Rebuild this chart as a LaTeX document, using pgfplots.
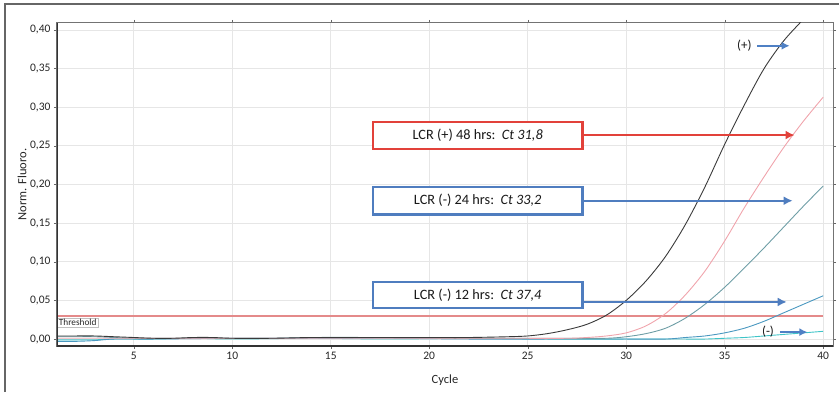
\documentclass[border=0pt]{standalone}
\usepackage{fontspec}
\setmainfont{Carlito}
\usepackage{pgfplots}
\pgfplotsset{compat=1.18}
\usetikzlibrary{arrows.meta,calc}
\definecolor{gridc}{HTML}{E6E6E6}
\definecolor{cblack}{HTML}{3A3A3A}
\definecolor{cpink}{HTML}{F0A4AC}
\definecolor{cteal}{HTML}{6E9EA6}
\definecolor{cblue}{HTML}{4A98C0}
\definecolor{ccyan}{HTML}{3FC4C8}
\definecolor{thr}{HTML}{E48A8A}
\definecolor{bred}{HTML}{E2413A}
\definecolor{bblue}{HTML}{4F7DBF}
\definecolor{abblue}{HTML}{4F80C4}
\begin{document}
\begin{tikzpicture}
\begin{axis}[
  scale only axis, width=776pt, height=323pt,
  xmin=1.1, xmax=40.5, ymin=-0.009, ymax=0.409,
  xtick={5,10,15,20,25,30,35,40},
  ytick={0,0.05,0.1,0.15,0.2,0.25,0.3,0.35,0.4},
  yticklabel style={/pgf/number format/.cd, fixed, fixed zerofill, precision=2, use comma},
  /pgf/number format/assume math mode=true,
  ticklabel style={font=\fontsize{11.5}{13}\selectfont, text=black!85},
  grid=major, grid style={gridc, line width=0.8pt},
  axis line style={black!55, line width=1pt},
  tick align=outside, major tick length=3pt, tick style={black!60},
  xlabel={Cycle}, ylabel={Norm. Fluoro.},
  xlabel style={font=\fontsize{12.5}{14}\selectfont, text=black!85, at={(axis description cs:0.5,-0.105)}, anchor=center},
  ylabel style={font=\fontsize{12.5}{14}\selectfont, text=black!85, at={(axis description cs:-0.045,0.5)}, anchor=center},
]
\coordinate (O) at (rel axis cs:0,0);
% threshold
\addplot[thr, line width=1.3pt] coordinates {(1.1,0.030) (40,0.030)};
% negative
\addplot[ccyan, line width=0.9pt, smooth] coordinates {(1,-0.001)(2,-0.001)(3,-0.001)(4,0.000)(6,0.000)(8,0.001)(10,0.000)(14,0.001)(18,0.000)(22,0.001)(26,0.000)(30,0.000)(33,0.000)(34,0.000)(35,0.001)(36,0.002)(37,0.004)(38,0.006)(39,0.008)(40,0.010)};
% 12 hrs
\addplot[cblue, line width=0.9pt, smooth] coordinates {(1,-0.003)(2,-0.003)(3,-0.002)(4,0.000)(6,0.000)(10,0.001)(14,0.001)(18,0.001)(22,0.000)(26,0.000)(30,0.000)(32,0.000)(33,0.002)(34,0.004)(35,0.008)(36,0.014)(37,0.023)(38,0.034)(39,0.045)(40,0.056)};
% 24 hrs
\addplot[cteal, line width=0.9pt, smooth] coordinates {(1,0.003)(2,0.003)(3,0.003)(4,0.002)(5,0.001)(8,0.001)(12,0.001)(14,0.002)(17,0.002)(20,0.001)(24,0.001)(27,0.001)(29,0.001)(30,0.003)(31,0.007)(32,0.014)(33,0.027)(34,0.045)(35,0.067)(36,0.092)(37,0.118)(38,0.145)(39,0.172)(40,0.198)};
% 48 hrs
\addplot[cpink, line width=0.9pt, smooth] coordinates {(1,0.001)(4,0.001)(8,0.001)(12,0.001)(16,0.001)(20,0.001)(24,0.001)(27,0.001)(28,0.002)(29,0.004)(30,0.008)(31,0.017)(32,0.033)(33,0.057)(34,0.088)(35,0.127)(36,0.170)(37,0.210)(38,0.248)(39,0.282)(40,0.313)};
% positive
\addplot[cblack, line width=0.9pt, smooth] coordinates {(1,0.004)(2,0.004)(3,0.004)(4,0.003)(5,0.002)(6,0.001)(7,0.001)(8,0.002)(9,0.002)(10,0.001)(12,0.001)(14,0.002)(16,0.002)(18,0.002)(20,0.002)(22,0.002)(24,0.003)(25,0.004)(26,0.007)(27,0.012)(28,0.019)(29,0.031)(30,0.050)(31,0.075)(32,0.107)(33,0.148)(34,0.197)(35,0.252)(36,0.303)(37,0.350)(38,0.386)(39,0.414)(40,0.442)};
% threshold label
\node[anchor=north west, fill=white, draw=black!25, inner sep=1.3pt, font=\fontsize{9.3}{10}\selectfont, text=black!85] at (axis cs:1.12,0.0275) {Threshold};
% boxes
\draw[bred, line width=2.4pt, -{Latex[length=9pt,width=9pt]}] (axis cs:27.79,0.264) -- (axis cs:38.55,0.264);
\draw[bred, line width=2.4pt, fill=white] (axis cs:17.13,0.246) rectangle (axis cs:27.79,0.281);
\node[font=\fontsize{14.3}{16}\selectfont, text=black!90] at (axis cs:22.46,0.2635) {LCR (+) 48 hrs:\ \ \textit{Ct 31,8}};
\draw[bblue, line width=2.4pt, -{Latex[length=9pt,width=9pt]}] (axis cs:27.79,0.179) -- (axis cs:38.45,0.179);
\draw[bblue, line width=2.4pt, fill=white] (axis cs:17.13,0.161) rectangle (axis cs:27.79,0.197);
\node[font=\fontsize{14.3}{16}\selectfont, text=black!90] at (axis cs:22.46,0.179) {LCR (-) 24 hrs:\ \ \textit{Ct 33,2}};
\draw[bblue, line width=2.4pt, -{Latex[length=9pt,width=9pt]}] (axis cs:27.79,0.048) -- (axis cs:38.15,0.048);
\draw[bblue, line width=2.4pt, fill=white] (axis cs:17.13,0.040) rectangle (axis cs:27.79,0.074);
\node[font=\fontsize{14.3}{16}\selectfont, text=black!90] at (axis cs:22.46,0.057) {LCR (-) 12 hrs:\ \ \textit{Ct 37,4}};
% (+) and (-)
\node[font=\fontsize{13}{15}\selectfont, text=black!90] at (axis cs:36.0,0.3795) {(+)};
\draw[abblue, line width=2.2pt, -{Latex[length=8pt,width=8pt]}] (axis cs:36.65,0.3795) -- (axis cs:38.3,0.3795);
\node[font=\fontsize{13}{15}\selectfont, text=black!90] at (axis cs:37.2,0.009) {(-)};
\draw[abblue, line width=2.2pt, -{Latex[length=8pt,width=8pt]}] (axis cs:37.8,0.009) -- (axis cs:39.2,0.009);
% heavier left/bottom axis lines
\draw[black!80, line width=2pt] (rel axis cs:0,1) -- (rel axis cs:0,0) -- (rel axis cs:1,0);
\end{axis}
\draw[black!60, line width=1.8pt] ($(O)+(-52pt,-46pt)$) -- ($(O)+(-52pt,342pt)$) -- ($(O)+(782pt,342pt)$);
\pgfresetboundingbox
\useasboundingbox ($(O)+(-57pt,-46pt)$) rectangle ($(O)+(782pt,346pt)$);
\end{tikzpicture}
\end{document}
